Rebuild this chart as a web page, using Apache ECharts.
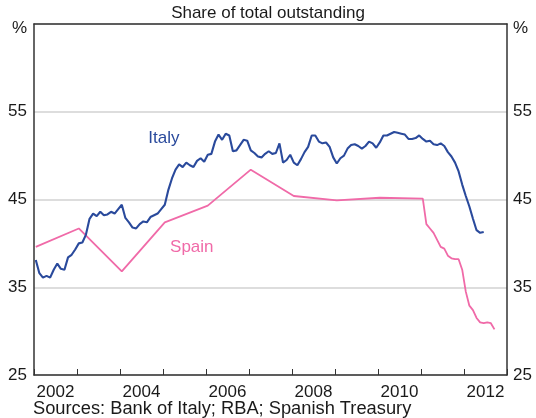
<!DOCTYPE html>
<html>
<head>
<meta charset="utf-8">
<script src="https://cdn.jsdelivr.net/npm/echarts@6/dist/echarts.min.js"></script>
<style>html,body{margin:0;padding:0;background:#fff}#c{width:536px;height:418px}</style>
</head>
<body>
<div id="c"></div>
<script>
// ---- data ----
var title = 'Share of total outstanding';
var source = 'Sources: Bank of Italy; RBA; Spanish Treasury';
var yTicks = [25, 35, 45, 55];
var yearLabels = [2002, 2004, 2006, 2008, 2010, 2012];
// Italy: monthly from Jan 2002
var italyStart = '2002-01';
var italy = [
  38.1, 36.6, 36.1, 36.3, 36.1, 37.0, 37.7, 37.1, 37.0, 38.4, 38.7, 39.3,
  40.0, 40.1, 41.0, 42.8, 43.4, 43.1, 43.6, 43.2, 43.3, 43.6, 43.4, 43.9,
  44.4, 42.9, 42.4, 41.8, 41.7, 42.2, 42.5, 42.4, 43.0, 43.2, 43.4, 43.9,
  44.4, 46.1, 47.4, 48.4, 49.0, 48.7, 49.2, 48.9, 48.7, 49.4, 49.7, 49.3,
  50.1, 50.2, 51.6, 52.4, 51.8, 52.5, 52.3, 50.5, 50.6, 51.2, 51.8, 51.7,
  50.6, 50.3, 49.9, 49.8, 50.2, 50.5, 50.2, 50.3, 51.4, 49.2, 49.5, 50.1,
  49.2, 48.9, 49.6, 50.4, 51.0, 52.3, 52.3, 51.6, 51.4, 51.5, 51.0, 49.8,
  49.1, 49.7, 50.0, 50.8, 51.2, 51.3, 51.1, 50.8, 51.1, 51.6, 51.4, 50.9,
  51.5, 52.3, 52.3, 52.5, 52.7, 52.6, 52.5, 52.4, 51.9, 51.9, 52.0, 52.3,
  51.9, 51.6, 51.7, 51.3, 51.2, 51.4, 51.1, 50.4, 49.9, 49.2, 48.2, 46.7,
  45.4, 44.2, 42.8, 41.5, 41.2, 41.3
];
// Spain: annual to Jan 2011, then monthly
var spainMonths = [
  '2002-01','2003-01','2004-01','2005-01','2006-01','2007-01','2008-01','2009-01','2010-01','2011-01',
  '2011-02','2011-03','2011-04','2011-05','2011-06','2011-07','2011-08','2011-09','2011-10','2011-11','2011-12',
  '2012-01','2012-02','2012-03','2012-04','2012-05','2012-06','2012-07','2012-08','2012-09'
];
var spain = [
  39.6, 41.7, 36.8, 42.4, 44.3, 48.4, 45.4, 44.9, 45.2, 45.1,
  42.2, 41.7, 41.2, 40.4, 39.6, 39.4, 38.6, 38.3, 38.2, 38.2, 37.0,
  34.5, 32.9, 32.4, 31.5, 31.0, 30.9, 31.0, 30.9, 30.2
];

// ---- helpers ----
function monthToT(s) { var p = s.split('-'); return +p[0] + (+p[1] - 0.5) / 12; }
var t0 = monthToT(italyStart);
var italyData = italy.map(function (v, i) { return [t0 + i / 12, v]; });
var spainData = spain.map(function (v, i) { return [monthToT(spainMonths[i]), v]; });

var font = 'Liberation Sans, Arial, sans-serif';
var txt = '#1a1a1a';
var axisCol = '#333';
function yFmt(v) { return yTicks.indexOf(v) >= 0 ? String(v) : '{p|%}'; }
var yRich = { p: { fontFamily: font, fontSize: 17, color: txt, padding: [8, 0, 0, 0] } };

var chart = echarts.init(document.getElementById('c'), null, { renderer: 'canvas' });
chart.setOption({
  animation: false,
  backgroundColor: '#fff',
  title: {
    text: title, left: 'center', top: 0,
    textStyle: { fontFamily: font, fontSize: 17, fontWeight: 'normal', color: txt }
  },
  graphic: [{
    type: 'text', left: 33, top: 400,
    style: { text: source, fontFamily: font, fontSize: 18.3, fill: txt }
  }],
  grid: { left: 34, right: 29, top: 24, bottom: 43, show: false },
  xAxis: [{
    type: 'value', min: 2002, max: 2013, interval: 1, position: 'bottom',
    axisLine: { show: true, onZero: false, lineStyle: { color: axisCol, width: 1.5 } },
    axisTick: { show: true, inside: true, length: 6, lineStyle: { color: axisCol, width: 1 } },
    axisLabel: { show: false }, splitLine: { show: false }
  }, {
    type: 'value', min: -0.5, max: 10.5, interval: 0.5, position: 'bottom',
    axisLine: { show: false }, axisTick: { show: false }, splitLine: { show: false },
    axisLabel: {
      show: true, margin: 9, fontFamily: font, fontSize: 17, color: txt,
      formatter: function (v) { var y = Math.round(2002 + v); return (Math.abs(2002 + v - y) < 1e-6 && yearLabels.indexOf(y) >= 0) ? String(y) : ''; }
    }
  }, {
    type: 'value', min: 2002, max: 2013, position: 'top',
    axisLine: { show: true, onZero: false, lineStyle: { color: axisCol, width: 1.5 } },
    axisTick: { show: false }, axisLabel: { show: false }, splitLine: { show: false }
  }],
  yAxis: [{
    type: 'value', min: 25, max: 65, interval: 10, position: 'left',
    axisLine: { show: true, onZero: false, lineStyle: { color: axisCol, width: 1.5 } },
    axisTick: { show: false },
    axisLabel: { margin: 7, fontFamily: font, fontSize: 17, color: txt, formatter: yFmt, rich: yRich },
    splitLine: { show: true, lineStyle: { color: '#d2d2d2', width: 1.5 } }
  }, {
    type: 'value', min: 25, max: 65, interval: 10, position: 'right',
    axisLine: { show: true, onZero: false, lineStyle: { color: axisCol, width: 1.5 } },
    axisTick: { show: false },
    axisLabel: { margin: 6, fontFamily: font, fontSize: 17, color: txt, formatter: yFmt, rich: yRich },
    splitLine: { show: false }
  }],
  series: [{
    name: 'Spain', type: 'line', data: spainData, xAxisIndex: 0, yAxisIndex: 0,
    showSymbol: false, symbol: 'none',
    lineStyle: { color: '#f06aa8', width: 1.8 },
    markPoint: {
      symbol: 'circle', symbolSize: 0, silent: true,
      data: [{ coord: [2005.67, 39.6], value: 'Spain' }],
      label: { show: true, position: 'inside', formatter: 'Spain', fontFamily: font, fontSize: 17, color: '#f06aa8' }
    }
  }, {
    name: 'Italy', type: 'line', data: italyData, xAxisIndex: 0, yAxisIndex: 0,
    showSymbol: false, symbol: 'none',
    lineStyle: { color: '#2a4a9c', width: 2.1 },
    markPoint: {
      symbol: 'circle', symbolSize: 0, silent: true,
      data: [{ coord: [2005.02, 52.0], value: 'Italy' }],
      label: { show: true, position: 'inside', formatter: 'Italy', fontFamily: font, fontSize: 17, color: '#2a4a9c' }
    }
  }]
});
</script>
</body>
</html>
